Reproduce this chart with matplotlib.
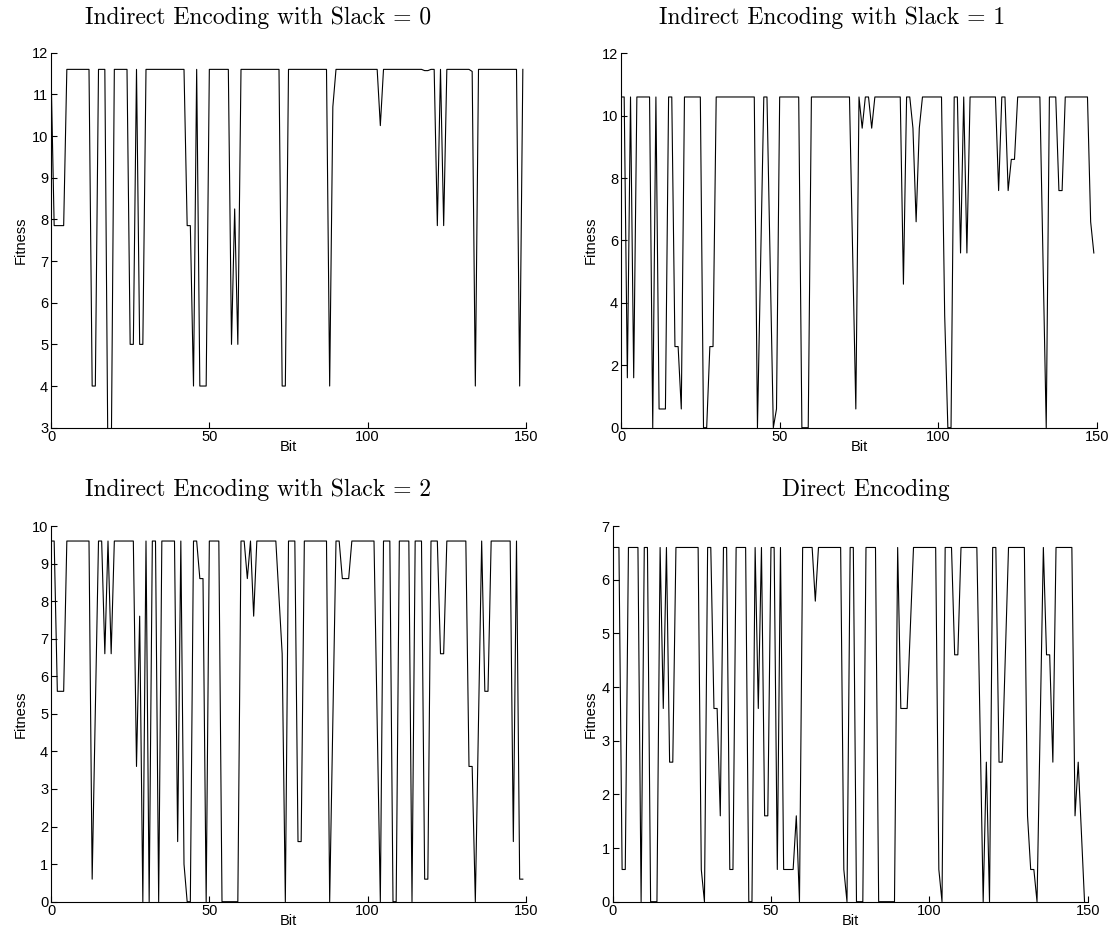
import matplotlib
matplotlib.use("Agg")
import matplotlib.pyplot as plt

plt.rcParams['font.family'] = ['Liberation Sans', 'DejaVu Sans']

# fitness per bit (150 bits each)
slack0 = [
    11.6, 7.85, 7.85, 7.85, 7.85, 11.6, 11.6, 11.6, 11.6, 11.6,
    11.6, 11.6, 11.6, 4, 4, 11.6, 11.6, 11.6, 2.0, 2.0,
    11.6, 11.6, 11.6, 11.6, 11.6, 5, 5, 11.6, 5, 5,
    11.6, 11.6, 11.6, 11.6, 11.6, 11.6, 11.6, 11.6, 11.6, 11.6,
    11.6, 11.6, 11.6, 7.85, 7.85, 4, 11.6, 4, 4, 4,
    11.6, 11.6, 11.6, 11.6, 11.6, 11.6, 11.6, 5, 8.25, 5,
    11.6, 11.6, 11.6, 11.6, 11.6, 11.6, 11.6, 11.6, 11.6, 11.6,
    11.6, 11.6, 11.6, 4, 4, 11.6, 11.6, 11.6, 11.6, 11.6,
    11.6, 11.6, 11.6, 11.6, 11.6, 11.6, 11.6, 11.6, 4, 10.7,
    11.6, 11.6, 11.6, 11.6, 11.6, 11.6, 11.6, 11.6, 11.6, 11.6,
    11.6, 11.6, 11.6, 11.6, 10.25, 11.6, 11.6, 11.6, 11.6, 11.6,
    11.6, 11.6, 11.6, 11.6, 11.6, 11.6, 11.6, 11.6, 11.57, 11.57,
    11.6, 11.6, 7.85, 11.6, 7.85, 11.6, 11.6, 11.6, 11.6, 11.6,
    11.6, 11.6, 11.6, 11.55, 4, 11.6, 11.6, 11.6, 11.6, 11.6,
    11.6, 11.6, 11.6, 11.6, 11.6, 11.6, 11.6, 11.6, 4, 11.6,
]

slack1 = [
    10.6, 10.6, 1.6, 10.6, 1.6, 10.6, 10.6, 10.6, 10.6, 10.6,
    0, 10.6, 0.6, 0.6, 0.6, 10.6, 10.6, 2.6, 2.6, 0.6,
    10.6, 10.6, 10.6, 10.6, 10.6, 10.6, 0, 0, 2.6, 2.6,
    10.6, 10.6, 10.6, 10.6, 10.6, 10.6, 10.6, 10.6, 10.6, 10.6,
    10.6, 10.6, 10.6, 0, 5.3, 10.6, 10.6, 5.3, 0, 0.6,
    10.6, 10.6, 10.6, 10.6, 10.6, 10.6, 10.6, 0, 0, 0,
    10.6, 10.6, 10.6, 10.6, 10.6, 10.6, 10.6, 10.6, 10.6, 10.6,
    10.6, 10.6, 10.6, 5.6, 0.6, 10.6, 9.6, 10.6, 10.6, 9.6,
    10.6, 10.6, 10.6, 10.6, 10.6, 10.6, 10.6, 10.6, 10.6, 4.6,
    10.6, 10.6, 9.6, 6.6, 9.6, 10.6, 10.6, 10.6, 10.6, 10.6,
    10.6, 10.6, 3.6, 0, 0, 10.6, 10.6, 5.6, 10.6, 5.6,
    10.6, 10.6, 10.6, 10.6, 10.6, 10.6, 10.6, 10.6, 10.6, 7.6,
    10.6, 10.6, 7.6, 8.6, 8.6, 10.6, 10.6, 10.6, 10.6, 10.6,
    10.6, 10.6, 10.6, 5.3, 0, 10.6, 10.6, 10.6, 7.6, 7.6,
    10.6, 10.6, 10.6, 10.6, 10.6, 10.6, 10.6, 10.6, 6.6, 5.6,
]

slack2 = [
    9.6, 9.6, 5.6, 5.6, 5.6, 9.6, 9.6, 9.6, 9.6, 9.6,
    9.6, 9.6, 9.6, 0.6, 5.1, 9.6, 9.6, 6.6, 9.6, 6.6,
    9.6, 9.6, 9.6, 9.6, 9.6, 9.6, 9.6, 3.6, 7.6, 0,
    9.6, 0, 9.6, 9.6, 0, 9.6, 9.6, 9.6, 9.6, 9.6,
    1.6, 9.6, 1.0, 0, 0, 9.6, 9.6, 8.6, 8.6, 0,
    9.6, 9.6, 9.6, 9.6, 0, 0, 0, 0, 0, 0,
    9.6, 9.6, 8.6, 9.6, 7.6, 9.6, 9.6, 9.6, 9.6, 9.6,
    9.6, 9.6, 8.1, 6.6, 0, 9.6, 9.6, 9.6, 1.6, 1.6,
    9.6, 9.6, 9.6, 9.6, 9.6, 9.6, 9.6, 9.6, 0, 4.8,
    9.6, 9.6, 8.6, 8.6, 8.6, 9.6, 9.6, 9.6, 9.6, 9.6,
    9.6, 9.6, 9.6, 4.8, 0, 9.6, 9.6, 9.6, 0, 0,
    9.6, 9.6, 9.6, 9.6, 0, 9.6, 9.6, 9.6, 0.6, 0.6,
    9.6, 9.6, 9.6, 6.6, 6.6, 9.6, 9.6, 9.6, 9.6, 9.6,
    9.6, 9.6, 3.6, 3.6, 0, 4.8, 9.6, 5.6, 5.6, 9.6,
    9.6, 9.6, 9.6, 9.6, 9.6, 9.6, 1.6, 9.6, 0.6, 0.6,
]

direct = [
    6.6, 6.6, 6.6, 0.6, 0.6, 6.6, 6.6, 6.6, 6.6, 0,
    6.6, 6.6, 0, 0, 0, 6.6, 3.6, 6.6, 2.6, 2.6,
    6.6, 6.6, 6.6, 6.6, 6.6, 6.6, 6.6, 6.6, 0.6, 0,
    6.6, 6.6, 3.6, 3.6, 1.6, 6.6, 6.6, 0.6, 0.6, 6.6,
    6.6, 6.6, 6.6, 0, 0, 6.6, 3.6, 6.6, 1.6, 1.6,
    6.6, 6.6, 0.6, 6.6, 0.6, 0.6, 0.6, 0.6, 1.6, 0,
    6.6, 6.6, 6.6, 6.6, 5.6, 6.6, 6.6, 6.6, 6.6, 6.6,
    6.6, 6.6, 6.6, 0.6, 0, 6.6, 6.6, 0, 0, 0,
    6.6, 6.6, 6.6, 6.6, 0, 0, 0, 0, 0, 0,
    6.6, 3.6, 3.6, 3.6, 5.1, 6.6, 6.6, 6.6, 6.6, 6.6,
    6.6, 6.6, 6.6, 0.6, 0, 6.6, 6.6, 6.6, 4.6, 4.6,
    6.6, 6.6, 6.6, 6.6, 6.6, 6.6, 3.3, 0, 2.6, 0,
    6.6, 6.6, 2.6, 2.6, 4.6, 6.6, 6.6, 6.6, 6.6, 6.6,
    6.6, 1.6, 0.6, 0.6, 0, 3.3, 6.6, 4.6, 4.6, 2.6,
    6.6, 6.6, 6.6, 6.6, 6.6, 6.6, 1.6, 2.6, 1.3, 0,
]

titles = ["Indirect Encoding with Slack = 0", "Indirect Encoding with Slack = 1",
          "Indirect Encoding with Slack = 2", "Direct Encoding"]
series = [slack0, slack1, slack2, direct]
ylims = [(3, 12), (0, 12), (0, 10), (0, 7)]
ysteps = [1, 2, 1, 1]
xticks = [0, 50, 100, 150]

W, H = 1117, 939
fig = plt.figure(figsize=(W / 100, H / 100), dpi=100)

# axes boxes in pixels: left, right, top, bottom
boxes = [(51, 526, 52.7, 427.7), (621, 1097, 53.3, 427.7),
         (51, 526, 526, 901.7), (612.6, 1087.7, 526, 901.7)]
title_pos = [(258, 18), (832, 18), (258, 490), (866, 490)]

for i in range(4):
    l, r, t, b = boxes[i]
    ax = fig.add_axes([l / W, 1 - b / H, (r - l) / W, (b - t) / H])
    ax.plot(range(len(series[i])), series[i], color='black', lw=0.8)
    ax.set_xlim(0, 150)
    lo, hi = ylims[i]
    ax.set_ylim(lo, hi)
    ax.set_xticks(xticks)
    ax.set_yticks(range(lo, hi + 1, ysteps[i]))
    ax.spines['top'].set_visible(False)
    ax.spines['right'].set_visible(False)
    ax.spines['left'].set_linewidth(0.8)
    ax.spines['bottom'].set_linewidth(0.8)
    ax.tick_params(direction='in', length=4, width=0.8, labelsize=10.5, pad=2)
    ax.set_xlabel("Bit", fontsize=10.5, labelpad=-3)
    ax.set_ylabel("Fitness", fontsize=10.5, labelpad=3)
    tx, ty = title_pos[i]
    fig.text(tx / W, 1 - ty / H, titles[i], fontsize=17, family='cmr10',
             ha='center', va='center')

fig.savefig("out.png", dpi=100)
